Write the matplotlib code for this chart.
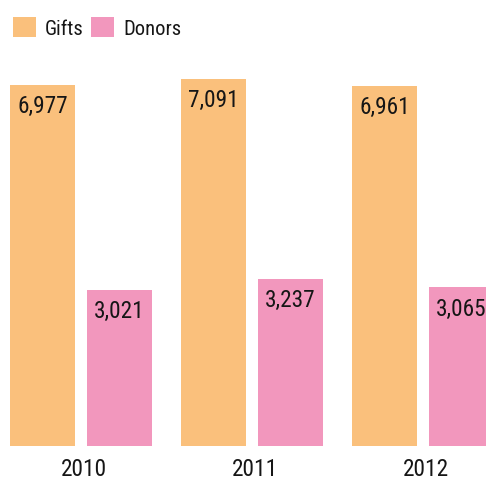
import matplotlib
matplotlib.use("Agg")
import matplotlib.pyplot as plt
import numpy as np
from matplotlib import font_manager
from matplotlib.patches import Patch

years = ["2010", "2011", "2012"]
gifts = [6977, 7091, 6961]
donors = [3021, 3237, 3065]

ORANGE = "#FAC07C"
PINK = "#F297BD"
INK = "#161616"

names = {f.name for f in font_manager.fontManager.ttflist}
for fam in ("Liberation Sans Narrow", "Roboto Condensed", "DejaVu Sans"):
    if fam in names:
        plt.rcParams["font.family"] = fam
        break

W, H = 486, 481
fig = plt.figure(figsize=(W / 100, H / 100), dpi=100)
base = 447
ax = fig.add_axes([0, (H - base) / H, 1, base / H])
ax.axis("off")

x = np.arange(len(years))
bw = 0.38
off = 0.225
b1 = ax.bar(x - off, gifts, bw, color=ORANGE, lw=0)
b2 = ax.bar(x + off, donors, bw, color=PINK, lw=0)
ax.set_xlim(-81 / 171, (W - 81) / 171)
ax.set_ylim(0, base / 0.05174)

for bars, vals in ((b1, gifts), (b2, donors)):
    for r, v in zip(bars, vals):
        ax.annotate(f"{v:,}", (r.get_x() + r.get_width() / 2, v),
                    xytext=(0, -6.6), textcoords="offset points",
                    ha="center", va="top", fontsize=16.8, color=INK,
                    annotation_clip=False)

for xi, yr in zip(x, years):
    ax.annotate(yr, (xi, 0), xytext=(2, -8.2), textcoords="offset points",
                ha="center", va="top", fontsize=16.8, color=INK,
                annotation_clip=False)

handles = [Patch(fc=ORANGE, ec="none", label="Gifts"),
           Patch(fc=PINK, ec="none", label="Donors")]
fig.legend(handles=handles, loc="upper left", bbox_to_anchor=(13 / W, 1 - 18 / H),
           ncol=2, frameon=False, fontsize=14.8, handlelength=1.12,
           handleheight=1.12, handletextpad=0.44, columnspacing=0.36,
           borderpad=0, borderaxespad=0, labelcolor=INK)

fig.savefig("out.png", dpi=100, facecolor="white")
